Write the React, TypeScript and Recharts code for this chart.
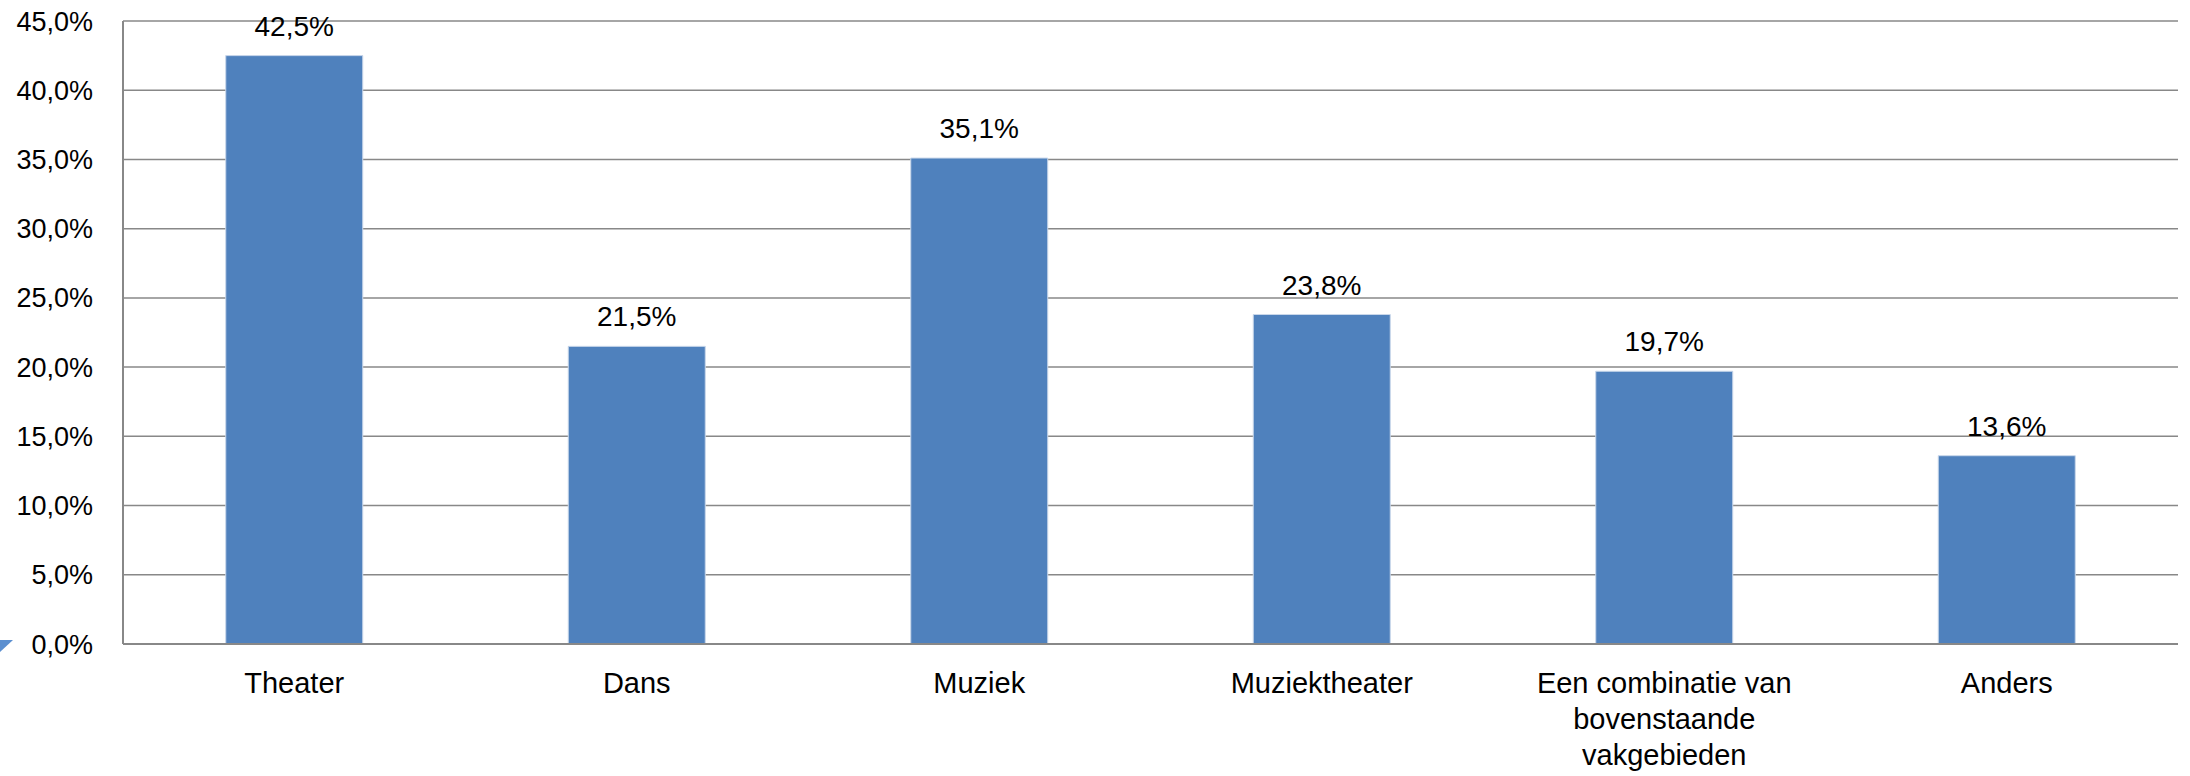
import React from 'react'
import { BarChart, Bar, XAxis, YAxis, CartesianGrid, LabelList } from 'recharts'

const categories = ['Theater', 'Dans', 'Muziek', 'Muziektheater', 'Een combinatie van bovenstaande vakgebieden', 'Anders']
const shares = [42.5, 21.5, 35.1, 23.8, 19.7, 13.6]
const yTicks = [0, 5, 10, 15, 20, 25, 30, 35, 40, 45]

const data = categories.map((name, i) => ({ name, value: shares[i] }))

const FONT = '"Liberation Sans", Arial, sans-serif'
const GRID = '#888888'

const pct = (v: number) => `${v.toFixed(1).replace('.', ',')}%`

// greedy word wrap, max chars per line
const wrap = (s: string, max = 18) => {
  const lines: string[] = []
  let cur = ''
  for (const w of s.split(' ')) {
    if (cur && (cur + ' ' + w).length > max) {
      lines.push(cur)
      cur = w
    } else {
      cur = cur ? cur + ' ' + w : w
    }
  }
  if (cur) lines.push(cur)
  return lines
}

const CategoryTick = ({ x, y, payload }: any) => (
  <text x={x} y={y + 49} textAnchor="middle" fill="#000" style={{ fontSize: 29, fontFamily: FONT }}>
    {wrap(payload.value).map((line, i) => (
      <tspan key={i} x={x} dy={i === 0 ? 0 : 36}>{line}</tspan>
    ))}
  </text>
)

export default function App() {
  return (
    <div style={{ position: 'relative', width: 2190, height: 776, background: '#fff' }}>
      <style>{`body{margin:0}`}</style>
      <BarChart
        width={2190}
        height={776}
        data={data}
        margin={{ top: 21, right: 12, left: 0, bottom: 0 }}
        barCategoryGap="30%"
      >
        <CartesianGrid vertical={false} stroke={GRID} strokeWidth={1.5} />
        <XAxis
          dataKey="name"
          interval={0}
          height={132}
          tickSize={0}
          tickMargin={0}
          tickLine={false}
          axisLine={{ stroke: GRID, strokeWidth: 2 }}
          tick={<CategoryTick />}
        />
        <YAxis
          domain={[0, 45]}
          ticks={yTicks}
          width={123}
          tickSize={0}
          tickMargin={30}
          tickLine={false}
          axisLine={{ stroke: GRID, strokeWidth: 2 }}
          tickFormatter={pct}
          tick={{ fontSize: 27, fontFamily: FONT, fill: '#000' }}
        />
        <Bar dataKey="value" fill="#4f81bd" stroke="#c9d7ea" strokeWidth={1} isAnimationActive={false}>
          <LabelList
            dataKey="value"
            position="top"
            offset={20}
            formatter={(v: any) => pct(Number(v))}
            style={{ fontSize: 28, fontFamily: FONT, fill: '#000' }}
          />
        </Bar>
      </BarChart>
      <svg width={14} height={14} style={{ position: 'absolute', left: 0, top: 640 }}>
        <polygon points="0,0 13,0 0,12" fill="#5b8fd0" />
      </svg>
    </div>
  )
}
